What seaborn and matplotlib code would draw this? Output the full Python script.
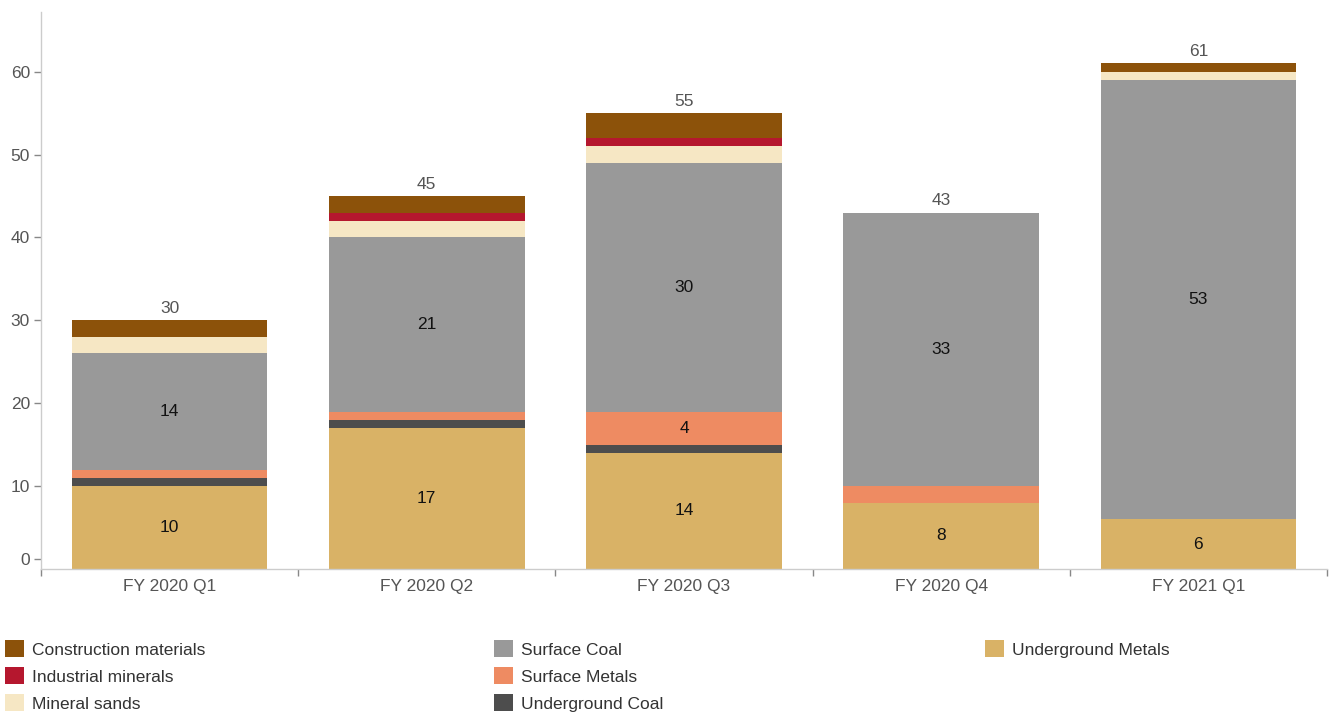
import numpy as np
import pandas as pd
import matplotlib
matplotlib.use("Agg")
import matplotlib.pyplot as plt
import matplotlib.transforms as mtransforms
import seaborn as sns
from matplotlib.patches import Patch

quarters = ["FY 2020 Q1", "FY 2020 Q2", "FY 2020 Q3", "FY 2020 Q4", "FY 2021 Q1"]

# stacking order, bottom to top
underground_metals = [10, 17, 14, 8, 6]
underground_coal = [1, 1, 1, 0, 0]
surface_metals = [1, 1, 4, 2, 0]
surface_coal = [14, 21, 30, 33, 53]
mineral_sands = [2, 2, 2, 0, 1]
industrial_minerals = [0, 1, 1, 0, 0]
construction_materials = [2, 2, 3, 0, 1]

series_names = ["Underground Metals", "Underground Coal", "Surface Metals",
                "Surface Coal", "Mineral sands", "Industrial minerals",
                "Construction materials"]
series_values = [underground_metals, underground_coal, surface_metals,
                 surface_coal, mineral_sands, industrial_minerals,
                 construction_materials]
colors = {
    "Underground Metals": "#D9B266",
    "Underground Coal": "#4D4D4D",
    "Surface Metals": "#EE8B62",
    "Surface Coal": "#999999",
    "Mineral sands": "#F6E7C4",
    "Industrial minerals": "#B5172E",
    "Construction materials": "#8C520A",
}

sns.set_theme(style="white")
plt.rcParams["font.family"] = ["Liberation Sans", "DejaVu Sans"]
FS = 12.5

vals = np.array(series_values, dtype=float)
cum = np.cumsum(vals, axis=0)
totals = cum[-1]

rows = []
for i, name in enumerate(series_names):
    for j, q in enumerate(quarters):
        rows.append({"quarter": q, "series": name, "value": vals[i, j],
                     "top": cum[i, j], "bottom": cum[i, j] - vals[i, j]})
df = pd.DataFrame(rows)

fig = plt.figure(figsize=(13.32, 7.13), dpi=100)
ax = fig.add_axes([41 / 1332, 144 / 713, (1327 - 41) / 1332, (701 - 144) / 713])

# draw cumulative heights from the top layer down so each layer covers the next
for name in reversed(series_names):
    sub = df[df["series"] == name]
    sns.barplot(data=sub, x="quarter", y="top", order=quarters, color=colors[name],
                width=0.76, saturation=1, ax=ax, linewidth=0, errorbar=None)

# segment labels
for _, r in df.iterrows():
    if r["value"] >= 4:
        j = quarters.index(r["quarter"])
        ax.text(j, (r["top"] + r["bottom"]) / 2, f"{int(r['value'])}",
                ha="center", va="center", fontsize=FS, color="#111111")

# totals above each bar
for j, t in enumerate(totals):
    ax.annotate(f"{int(t)}", (j, t), xytext=(0, 3), textcoords="offset points",
                ha="center", va="bottom", fontsize=FS, color="#555555")

ax.set_xlim(-0.5, len(quarters) - 0.5)
ax.set_ylim(0, 67.2)
ax.set_xlabel("")
ax.set_ylabel("")
ax.set_yticks([0, 10, 20, 30, 40, 50, 60])
ax.tick_params(axis="y", which="major", left=True, length=5, width=1, color="#888888",
               labelsize=FS, labelcolor="#555555", pad=3)
ax.set_xticks(range(len(quarters)))
ax.set_xticklabels(quarters)
ax.tick_params(axis="x", which="major", bottom=False, labelsize=FS,
               labelcolor="#555555", pad=1.5)
ax.set_xticks(np.arange(-0.5, len(quarters), 1.0), minor=True)
ax.tick_params(axis="x", which="minor", bottom=True, length=5, width=1, color="#888888")

# lift the zero tick clear of the baseline
lift = mtransforms.ScaledTranslation(0, 10 / 100, fig.dpi_scale_trans)
zero_tick = ax.yaxis.get_major_ticks()[0]
zero_tick.label1.set_transform(zero_tick.label1.get_transform() + lift)
zero_tick.tick1line.set_transform(zero_tick.tick1line.get_transform() + lift)

for s in ["top", "right"]:
    ax.spines[s].set_visible(False)
for s in ["left", "bottom"]:
    ax.spines[s].set_color("#cccccc")
    ax.spines[s].set_linewidth(1)

# legend in three columns
legend_cols = [
    ["Construction materials", "Industrial minerals", "Mineral sands"],
    ["Surface Coal", "Surface Metals", "Underground Coal"],
    ["Underground Metals"],
]
col_x = [2 / 1332, 491 / 1332, 982 / 1332]
for names, x0 in zip(legend_cols, col_x):
    handles = [Patch(facecolor=colors[n], edgecolor="none") for n in names]
    fig.legend(handles, names, loc="upper left", bbox_to_anchor=(x0, 76 / 713),
               frameon=False, fontsize=FS, handlelength=1.05, handleheight=1.1,
               handletextpad=0.45, labelspacing=0.56, labelcolor="#333333",
               borderaxespad=0, borderpad=0.2)

fig.savefig("out.png", dpi=100)
